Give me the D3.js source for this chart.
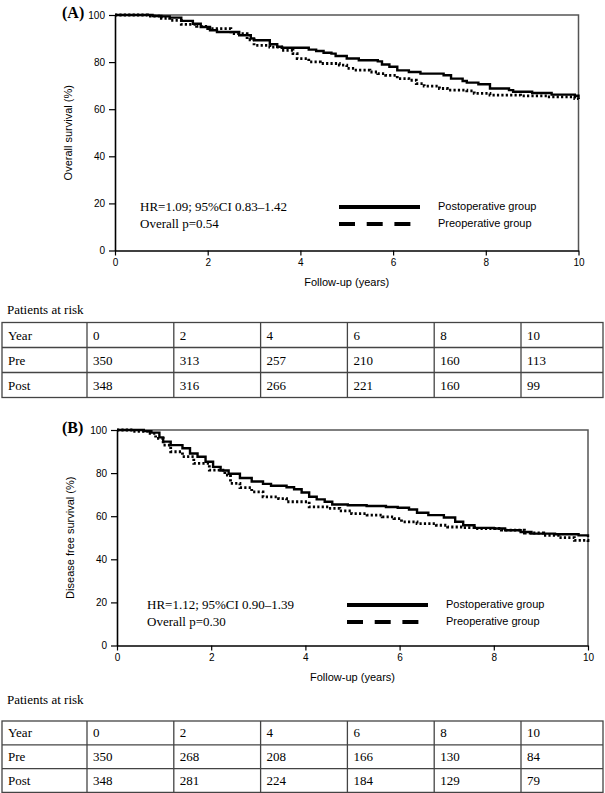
<!DOCTYPE html>
<html><head><meta charset="utf-8">
<script src="https://cdn.jsdelivr.net/npm/d3@7"></script>
<style>body{margin:0;background:#fff}svg{display:block}</style>
</head><body>
<svg id="c" width="605" height="793"></svg>
<script>
// ---- data ----
const xTicks = [0, 2, 4, 6, 8, 10];
const yTicks = [0, 20, 40, 60, 80, 100];
const seriesNames = ["Postoperative group", "Preoperative group"];

const postA = [[0,100],[0.81,99.6],[1.0,99.4],[1.18,98.9],[1.43,97.5],[1.68,96.3],[1.85,94.9],[2.05,93.5],[2.2,92.8],[2.68,91.4],[2.93,90],[3.0,89.3],[3.34,87.6],[3.5,86.5],[3.6,86.1],[4.18,85.3],[4.34,84.7],[4.5,84],[4.67,83.6],[4.76,82.6],[5.0,81.5],[5.26,80.8],[5.67,80.3],[5.76,79],[5.92,78],[6.09,76.5],[6.34,75.8],[6.59,75.1],[7.09,74.4],[7.25,73],[7.5,72],[7.59,71.3],[7.84,70.6],[8.09,68.8],[8.5,68.1],[8.59,67.4],[9.0,66.9],[9.42,66.2],[9.92,65.7],[10,65.2]];
const preA = [[0,100],[0.7,99.5],[1.0,98.6],[1.18,97.7],[1.43,96],[1.76,95.2],[2.0,94.2],[2.5,92.1],[2.85,89.5],[3.0,87.1],[3.34,86.4],[3.6,85],[3.84,83.6],[3.93,81.5],[4.18,80.1],[4.43,79.4],[4.84,78.7],[5.0,77.3],[5.17,76.6],[5.5,75.8],[5.67,75.1],[5.84,74.4],[6.09,73],[6.34,72.3],[6.5,70.9],[6.67,69.8],[7.0,68.8],[7.17,68.1],[7.59,67.8],[7.75,66.7],[8.09,66],[8.75,65.7],[9.33,65.2],[9.92,64.5],[10,64.3]];
const postB = [[0,100],[0.57,99.5],[0.73,98.8],[0.9,96.6],[0.98,94.6],[1.14,93],[1.39,91.5],[1.55,89.1],[1.71,87.6],[1.88,85.3],[2.04,82.9],[2.2,81.2],[2.37,79.7],[2.61,77.7],[2.86,76.1],[3.1,75],[3.27,74.1],[3.6,73.4],[3.76,72.5],[3.92,71],[4.08,69],[4.24,67.8],[4.41,66.7],[4.57,65.4],[4.9,65.1],[5.3,64.7],[5.71,64.3],[5.96,63.9],[6.2,63.1],[6.37,61.6],[6.61,60.5],[6.94,59.4],[7.18,57.4],[7.35,55.8],[7.59,54.6],[8.0,54.3],[8.24,53.5],[8.57,52.7],[8.8,51.9],[9.3,51.6],[9.8,51.1],[10,50.4]];
const preB = [[0,100],[0.33,99.4],[0.65,98.4],[0.82,96.1],[0.98,93],[1.14,89.9],[1.39,87.6],[1.63,84.5],[1.96,81.4],[2.29,79.1],[2.41,75.2],[2.61,73.3],[2.86,71.3],[3.1,69],[3.43,68.2],[3.6,66.7],[4.08,64.3],[4.49,63.6],[4.73,62.5],[4.98,61.2],[5.31,60.5],[5.63,59.7],[5.88,58.9],[6.04,57.4],[6.37,56.6],[6.78,55.8],[7.02,55],[7.35,54.7],[7.59,54.3],[8.16,53.5],[8.65,52.2],[9.06,51.1],[9.39,50.1],[9.71,48.8],[10,47.3]];

const riskHeader = ["Year", "0", "2", "4", "6", "8", "10"];
const riskPreA = ["Pre", 350, 313, 257, 210, 160, 113];
const riskPostA = ["Post", 348, 316, 266, 221, 160, 99];
const riskPreB = ["Pre", 350, 268, 208, 166, 130, 84];
const riskPostB = ["Post", 348, 281, 224, 184, 129, 79];

const statsA = ["HR=1.09; 95%CI 0.83\u20131.42", "Overall p=0.54"];
const statsB = ["HR=1.12; 95%CI 0.90\u20131.39", "Overall p=0.30"];

// ---- drawing ----
const svg = d3.select("#c");
const SERIF = "'Liberation Serif','Times New Roman',serif";
const SANS = "'Liberation Sans',Arial,sans-serif";

function panel(cfg) {
  const x = d3.scaleLinear().domain([0, 10]).range([cfg.left, cfg.right]);
  const y = d3.scaleLinear().domain([0, 100]).range([cfg.bottom, cfg.top]);
  const g = svg.append("g");

  g.append("path")
    .attr("d", `M${cfg.left},${cfg.top}H${cfg.right}V${cfg.bottom}`)
    .attr("fill", "none").attr("stroke", "#555").attr("stroke-width", 1.5);

  const xa = g.append("g").attr("transform", `translate(0,${cfg.bottom})`)
    .call(d3.axisBottom(x).tickValues(xTicks).tickSize(5).tickSizeOuter(0).tickPadding(3));
  const ya = g.append("g").attr("transform", `translate(${cfg.left},0)`)
    .call(d3.axisLeft(y).tickValues(yTicks).tickSize(6).tickSizeOuter(0).tickPadding(4));
  [xa, ya].forEach(a => {
    a.select(".domain").attr("stroke", "#000").attr("stroke-width", 1.6);
    a.selectAll(".tick line").attr("stroke", "#000").attr("stroke-width", 1.2);
    a.selectAll("text").attr("font-family", SANS).attr("font-size", 10).attr("fill", "#000");
  });

  const line = d3.line().x(d => x(d[0])).y(d => y(d[1])).curve(d3.curveStepAfter);
  g.append("path").datum(cfg.pre).attr("d", line).attr("fill", "none")
    .attr("stroke", "#000").attr("stroke-width", 2.8).attr("stroke-dasharray", "2.2,2.2");
  g.append("path").datum(cfg.post).attr("d", line).attr("fill", "none")
    .attr("stroke", "#000").attr("stroke-width", 2.4);

  g.append("text").attr("x", 62).attr("y", cfg.top + 3).text(cfg.label)
    .attr("font-family", SERIF).attr("font-weight", "bold").attr("font-size", 16);

  g.append("text").attr("transform", `translate(${cfg.left - 43},${(cfg.top + cfg.bottom) / 2}) rotate(-90)`)
    .attr("text-anchor", "middle").attr("font-family", SANS).attr("font-size", 11).text(cfg.ylabel);
  g.append("text").attr("x", (cfg.left + cfg.right) / 2).attr("y", cfg.bottom + 35)
    .attr("text-anchor", "middle").attr("font-family", SANS).attr("font-size", 11).text("Follow-up (years)");

  cfg.stats.forEach((s, i) => {
    g.append("text").attr("x", cfg.statX).attr("y", cfg.statY + i * 17).text(s)
      .attr("font-family", SERIF).attr("font-size", 13);
  });
  const ly = [cfg.statY - 4, cfg.statY + 13];
  g.append("line").attr("x1", cfg.legX).attr("x2", cfg.legX + 81).attr("y1", ly[0]).attr("y2", ly[0])
    .attr("stroke", "#000").attr("stroke-width", 4);
  g.append("line").attr("x1", cfg.legX).attr("x2", cfg.legX + 72).attr("y1", ly[1]).attr("y2", ly[1])
    .attr("stroke", "#000").attr("stroke-width", 4).attr("stroke-dasharray", "16,11.7");
  seriesNames.forEach((n, i) => {
    g.append("text").attr("x", cfg.legX + 99).attr("y", ly[i] + 3).text(n)
      .attr("font-family", SANS).attr("font-size", 11);
  });

  const tb = cfg.table;
  g.append("text").attr("x", 7).attr("y", tb.titleY).text("Patients at risk")
    .attr("font-family", SERIF).attr("font-size", 13);
  const colX = d3.range(7).map(i => 87 + (i - 1) * 86.8);
  colX[0] = 2;
  const rows = [riskHeader, tb.pre, tb.post];
  const rowY = d3.range(4).map(i => tb.top + i * tb.rowH);
  g.append("rect").attr("x", 2).attr("y", tb.top).attr("width", 601).attr("height", tb.rowH * 3)
    .attr("fill", "none").attr("stroke", "#444").attr("stroke-width", 1.3);
  rowY.slice(1, 3).forEach(yy => g.append("line").attr("x1", 2).attr("x2", 603).attr("y1", yy).attr("y2", yy)
    .attr("stroke", "#444").attr("stroke-width", 1.3));
  colX.slice(1).forEach(xx => g.append("line").attr("x1", xx).attr("x2", xx).attr("y1", tb.top).attr("y2", tb.top + tb.rowH * 3)
    .attr("stroke", "#444").attr("stroke-width", 1.3));
  rows.forEach((r, ri) => r.forEach((v, ci) => {
    g.append("text").attr("x", colX[ci] + 6).attr("y", rowY[ri] + tb.rowH / 2 + 4.5).text(v)
      .attr("font-family", SERIF).attr("font-size", 13);
  }));
}

panel({label: "(A)", left: 115, right: 578.5, top: 15, bottom: 250.5,
  pre: preA, post: postA, ylabel: "Overall survival (%)", stats: statsA,
  statX: 140, statY: 211, legX: 339,
  table: {titleY: 314, top: 322.5, rowH: 25, pre: riskPreA, post: riskPostA}});

panel({label: "(B)", left: 117, right: 588, top: 430, bottom: 645.5,
  pre: preB, post: postB, ylabel: "Disease free survival (%)", stats: statsB,
  statX: 147, statY: 609, legX: 347,
  table: {titleY: 704, top: 721, rowH: 23.8, pre: riskPreB, post: riskPostB}});
</script>
</body></html>
